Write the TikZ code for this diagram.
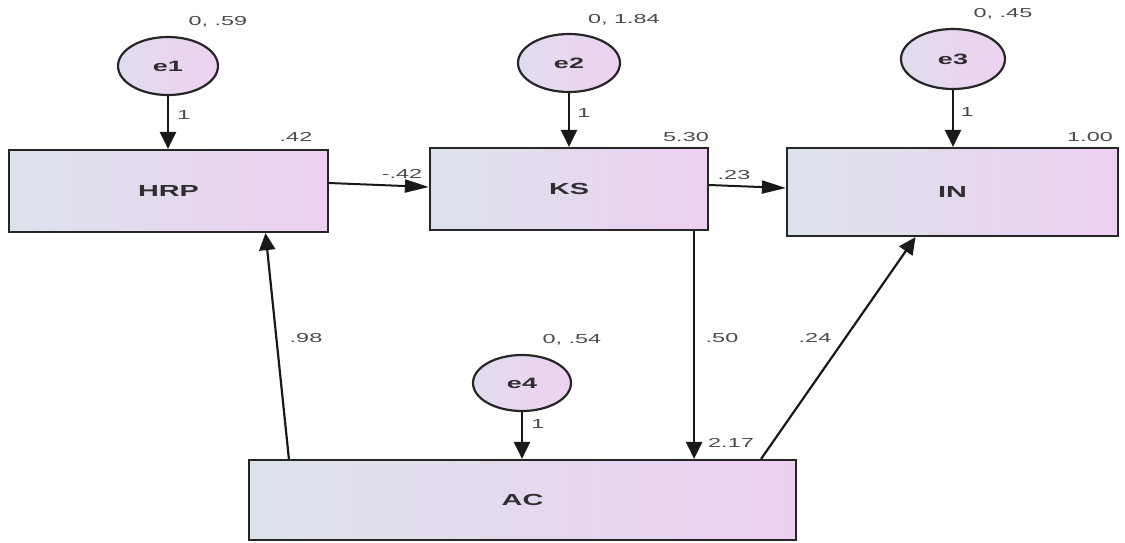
\documentclass[tikz,border=0pt]{standalone}
\usepackage{fontspec}
\setmainfont{Liberation Sans}[FakeStretch=1.8]
\usetikzlibrary{arrows.meta,shapes.geometric}
\definecolor{boxL}{HTML}{DCE2EC}
\definecolor{boxR}{HTML}{EDD0F1}
\definecolor{elL}{HTML}{E1DCEE}
\definecolor{elR}{HTML}{EED1F1}
\definecolor{numc}{HTML}{4A4A4A}
\definecolor{labc}{HTML}{2E2E2E}
\begin{document}
\begin{tikzpicture}[x=1pt,y=-1pt,
  var/.style={draw=black!85,line width=2.2pt,rectangle,left color=boxL,right color=boxR,
    font=\bfseries\fontsize{16}{18}\selectfont,text=labc},
  err/.style={draw=black!85,line width=2.2pt,ellipse,left color=elL,right color=elR,
    font=\bfseries\fontsize{15}{17}\selectfont,text=labc,inner sep=0pt},
  num/.style={font=\fontsize{13}{15}\selectfont,text=numc,inner sep=0pt},
  arr/.style={line width=2.2pt,draw=black!90,-{Triangle[length=17pt,width=16pt]}},
  harr/.style={line width=2pt,draw=black!90,-{Triangle[length=24pt,width=13pt]}}]
\useasboundingbox (0,0) rectangle (1125,542);
% boxes
\node[var,minimum width=319pt,minimum height=82pt] (HRP) at (168.5,191) {HRP};
\node[var,minimum width=278pt,minimum height=82pt] (KS) at (569,189) {KS};
\node[var,minimum width=331pt,minimum height=88pt] (IN) at (952.5,192) {IN};
\node[var,minimum width=547pt,minimum height=80pt] (AC) at (522.5,500) {AC};
% error ellipses
\node[err,minimum width=100pt,minimum height=58pt] (e1) at (168,66) {e1};
\node[err,minimum width=102pt,minimum height=58pt] (e2) at (569,63) {e2};
\node[err,minimum width=104pt,minimum height=60pt] (e3) at (953,59) {e3};
\node[err,minimum width=98pt,minimum height=56pt] (e4) at (522,383) {e4};
% connectors
\draw[arr] (e1.south) -- (e1.south |- HRP.north);
\draw[arr] (e2.south) -- (e2.south |- KS.north);
\draw[arr] (e3.south) -- (e3.south |- IN.north);
\draw[arr] (e4.south) -- (e4.south |- AC.north);
\draw[harr] ([yshift=8pt]HRP.east) -- ([yshift=2pt]KS.west);
\draw[harr] ([yshift=4pt]KS.east) -- ([yshift=4pt]IN.west);
\coordinate (k) at ([xshift=-15pt]KS.south east);
\draw[arr] (k) -- (k |- AC.north);
\draw[arr] ([xshift=-36pt]AC.north east) -- ([xshift=-37pt]IN.south);
\draw[arr] ([xshift=41pt]AC.north west) -- ([xshift=97pt]HRP.south);
% labels
\node[num] (v1) at (218,22) {0, .59};
\node[num] (v2) at (624,20) {0, 1.84};
\node[num] (v3) at (1003,14) {0, .45};
\node[num] (v4) at (572,340) {0, .54};
\node[num] (i1) at (296,137) {.42};
\node[num] (i2) at (686,137) {5.30};
\node[num] (i3) at (1090,137) {1.00};
\node[num] (i4) at (731,443) {2.17};
\node[num] (w1) at (184,115) {1};
\node[num] (w2) at (584,113) {1};
\node[num] (w3) at (967,112) {1};
\node[num] (w4) at (538,424) {1};
\node[num] (p1) at (402,174) {-.42};
\node[num] (p2) at (734,175) {.23};
\node[num] (p3) at (722,338) {.50};
\node[num] (p4) at (815,338) {.24};
\node[num] (p5) at (306,338) {.98};
\end{tikzpicture}
\end{document}
